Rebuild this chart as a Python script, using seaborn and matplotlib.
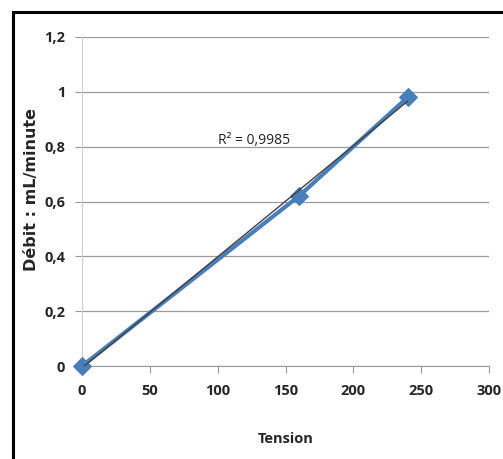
import numpy as np
import pandas as pd
import seaborn as sns
import matplotlib.pyplot as plt
from matplotlib.patches import Rectangle

# data
tension = [0, 160, 240]
debit = [0, 0.62, 0.98]
x_ticks = [0, 50, 100, 150, 200, 250, 300]
y_ticks = [0, 0.2, 0.4, 0.6, 0.8, 1.0, 1.2]
y_labels = ["0", "0,2", "0,4", "0,6", "0,8", "1", "1,2"]

df = pd.DataFrame({"Tension": tension, "Debit": debit})

sns.set_style("white")
plt.rcParams['font.family'] = ['Open Sans', 'DejaVu Sans']

fig = plt.figure(figsize=(5.03, 4.59), dpi=100)
ax = fig.add_axes([82 / 503, 1 - 366 / 459, 407 / 503, 329 / 459])

# outer frame
fig.patches.append(Rectangle((12.5 / 503, -0.05), 1.1, 1 - 12.5 / 459 + 0.05,
                             transform=fig.transFigure, fill=False,
                             edgecolor="black", linewidth=2.2))

# linear trend
slope, intercept = np.polyfit(tension, debit, 1)
pred = np.polyval([slope, intercept], tension)
r2 = 1 - np.sum((np.array(debit) - pred) ** 2) / np.sum((np.array(debit) - np.mean(debit)) ** 2)

sns.lineplot(data=df, x="Tension", y="Debit", ax=ax, color="#4a7ebb",
             linewidth=3, marker="D", markersize=9, markeredgecolor="#4a7ebb",
             zorder=3, clip_on=False)
xs = np.array([min(tension), max(tension)])
ax.plot(xs, slope * xs + intercept, color="#404040", linewidth=1, zorder=4)

ax.text(100, 0.81, "R² = " + f"{r2:.4f}".replace(".", ","), fontsize=10,
        color="#222222")

ax.set_xlim(0, 300)
ax.set_ylim(0, 1.2)
ax.set_xticks(x_ticks)
ax.set_xticklabels([str(t) for t in x_ticks])
ax.set_yticks(y_ticks)
ax.set_yticklabels(y_labels)
ax.yaxis.grid(True, color="#999999", linewidth=0.9)
ax.set_axisbelow(True)

for s in ["top", "right"]:
    ax.spines[s].set_visible(False)
ax.spines["left"].set_color("#d0d0d0")
ax.spines["bottom"].set_color("#999999")
ax.tick_params(axis="x", length=5, color="#999999", direction="out", pad=8,
               labelsize=10.5, bottom=True)
ax.tick_params(axis="y", length=5, color="#999999", direction="out", pad=7,
               labelsize=10.5, left=True)
for lab in ax.get_xticklabels() + ax.get_yticklabels():
    lab.set_fontweight("bold")

ax.set_xlabel("Tension", fontsize=10.5, fontweight="bold")
ax.xaxis.set_label_coords(0.5, -0.2)
ax.set_ylabel("Débit : mL/minute", fontsize=11.5, fontweight="bold",
              family=["DejaVu Sans"])
ax.yaxis.set_label_coords(-0.106, 0.535)

fig.savefig("out.png", dpi=100)
